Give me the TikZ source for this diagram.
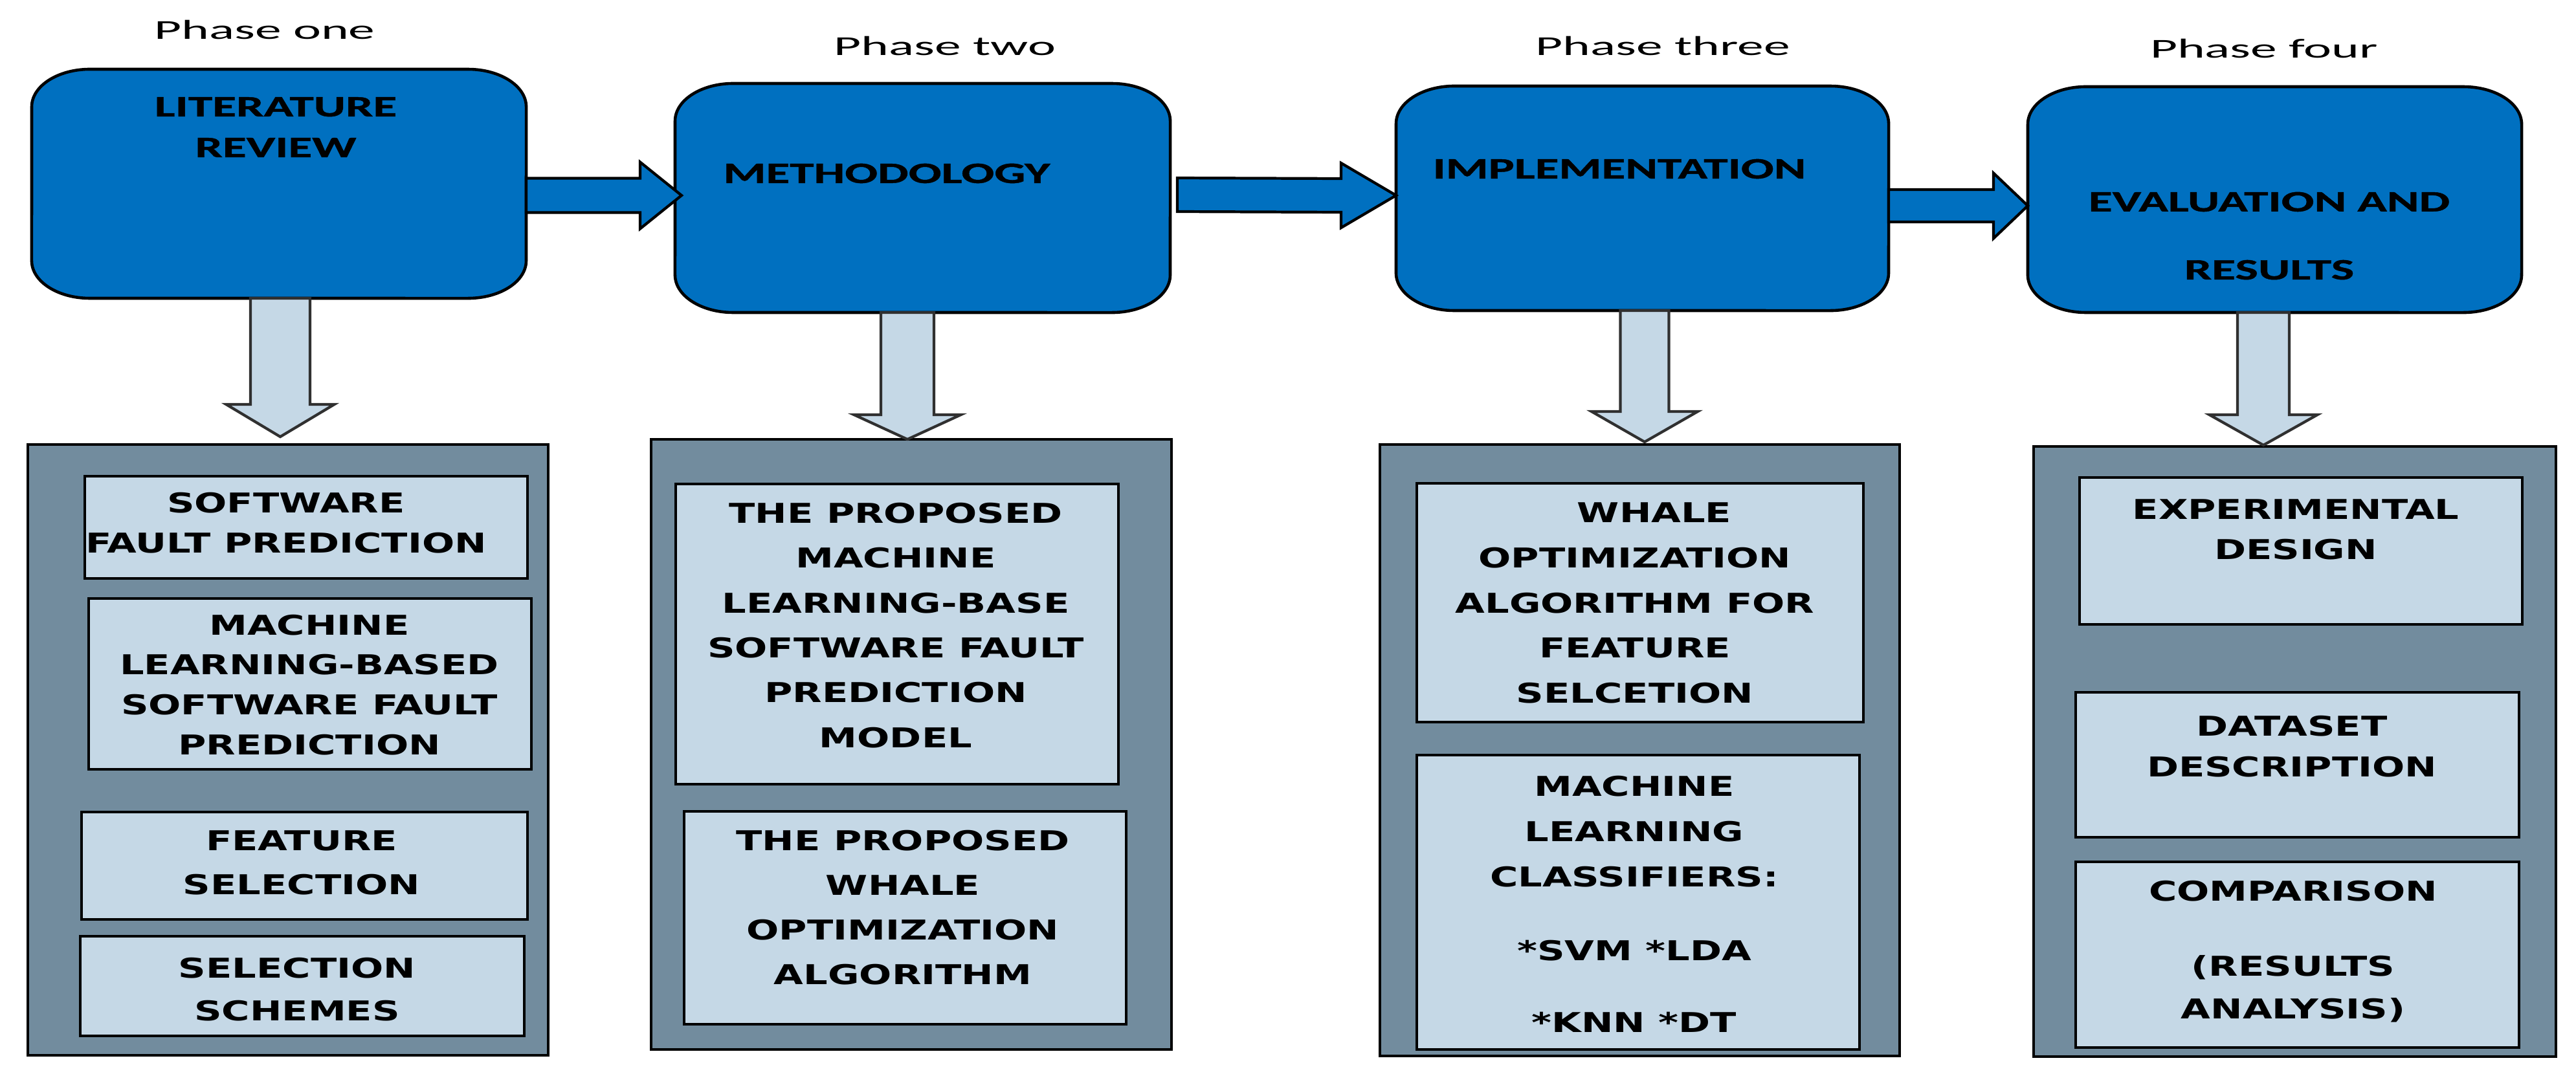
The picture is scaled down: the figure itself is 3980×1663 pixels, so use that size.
\documentclass[tikz,border=0pt]{standalone}
\usepackage{fontspec}
\usetikzlibrary{fit,calc}
\newfontfamily\phasefont[FakeStretch=1.93]{Carlito}
\newfontfamily\topfont[FakeStretch=1.65,FakeBold=1]{Carlito Bold}
\newfontfamily\subfont[FakeStretch=1.4]{DejaVu Sans Bold}
\definecolor{phaseblue}{HTML}{0070C0}
\definecolor{panelgray}{HTML}{728C9E}
\definecolor{lightbox}{HTML}{C5D8E6}
\definecolor{arrowedge}{HTML}{303030}
\tikzset{
  frame/.style={inner sep=0pt, outer sep=0pt},
  topbox/.style={draw=black, line width=1.3pt, fill=phaseblue},
  panel/.style={frame, draw=black, line width=1.4pt, fill=panelgray},
  subbox/.style={frame, draw=black, line width=1.2pt, fill=lightbox},
  phaselabel/.style={anchor=base, inner sep=0pt, font=\phasefont\fontsize{12}{14}\selectfont},
  toptext/.style={align=center, inner sep=0pt, font=\topfont\fontsize{13}{#1}\selectfont},
  subtext/.style={align=center, inner sep=0pt, font=\subfont\fontsize{12}{#1}\selectfont},
  rarrow/.style={draw=black, line width=1.2pt, fill=phaseblue, line join=miter},
  darrow/.style={draw=arrowedge, line width=1.2pt, fill=lightbox, line join=miter},
}
% phase box with elliptical corners, drawn round a named frame node
\newcommand\phasebox[1]{%
  \draw[topbox] ($(#1.north west)+(90,0)$) -- ($(#1.north east)+(-90,0)$)
    arc[start angle=90,end angle=0,x radius=0.9cm,y radius=0.58cm]
    -- ($(#1.south east)+(0,-58)$)
    arc[start angle=0,end angle=-90,x radius=0.9cm,y radius=0.58cm]
    -- ($(#1.south west)+(90,0)$)
    arc[start angle=-90,end angle=-180,x radius=0.9cm,y radius=0.58cm]
    -- ($(#1.north west)+(0,58)$)
    arc[start angle=180,end angle=90,x radius=0.9cm,y radius=0.58cm] -- cycle;}
% block arrow to the right: start, tip, half shaft, half head, head length
\newcommand\rblock[5]{%
  \draw[rarrow] ($(#1)+(0,-#3)$) -- ($(#2)+(-#5,-#3)$) -- ($(#2)+(-#5,-#4)$) -- (#2)
    -- ($(#2)+(-#5,#4)$) -- ($(#2)+(-#5,#3)$) -- ($(#1)+(0,#3)$) -- cycle;}
% block arrow downwards: start, tip, half shaft, half head, head length
\newcommand\dblock[5]{%
  \draw[darrow] ($(#1)+(-#3,0)$) -- ($(#2)+(-#3,-#5)$) -- ($(#2)+(-#4,-#5)$) -- (#2)
    -- ($(#2)+(#4,-#5)$) -- ($(#2)+(#3,-#5)$) -- ($(#1)+(#3,0)$) -- cycle;}
\begin{document}
\begin{tikzpicture}[x=0.01cm,y=-0.01cm]
\path[use as bounding box, fill=white] (0,0) rectangle (3980,1663);

% ---------- lower panels ----------
\node[panel, fit={(43,687) (847,1631)}] (p1) {};
\node[panel, fit={(1006,679) (1810,1622)}] (p2) {};
\node[panel, fit={(2132,687) (2935,1632)}] (p3) {};
\node[panel, fit={(3142,690) (3949,1633)}] (p4) {};

% ---------- sub boxes ----------
\node[subbox, fit={(131,736) (815,894)}] (s11) {};
\node[subbox, fit={(137,925) (821,1189)}] (s12) {};
\node[subbox, fit={(126,1255) (815,1421)}] (s13) {};
\node[subbox, fit={(124,1447) (810,1601)}] (s14) {};
\node[subbox, fit={(1044,748) (1728,1212)}] (s21) {};
\node[subbox, fit={(1057,1254) (1740,1583)}] (s22) {};
\node[subbox, fit={(2189,747) (2879,1116)}] (s31) {};
\node[subbox, fit={(2189,1167) (2873,1622)}] (s32) {};
\node[subbox, fit={(3213,738) (3897,965)}] (s41) {};
\node[subbox, fit={(3207,1070) (3892,1294)}] (s42) {};
\node[subbox, fit={(3207,1332) (3892,1619)}] (s43) {};

% ---------- phase boxes ----------
\node[frame, fit={(49,107) (813,461)}] (b1) {};
\node[frame, fit={(1043,129) (1808,483)}] (b2) {};
\node[frame, fit={(2157,133) (2918,480)}] (b3) {};
\node[frame, fit={(3133,134) (3896,483)}] (b4) {};
\phasebox{b1}
\phasebox{b2}
\phasebox{b3}
\phasebox{b4}

% ---------- arrows ----------
\coordinate (a12s) at (b1.east |- 0,302);
\coordinate (a12t) at (1053,302);
\coordinate (a23s) at (1819,301);
\coordinate (a23t) at (b3.west |- 0,302);
\coordinate (a34s) at (b3.east |- 0,318);
\coordinate (a34t) at (b4.west |- 0,318);
\rblock{a12s}{a12t}{26.5}{51.5}{64}
\rblock{a23s}{a23t}{26}{50}{85}
\rblock{a34s}{a34t}{25}{50.5}{53}

\coordinate (d1s) at (433,0 |- b1.south);
\coordinate (d1t) at (433,675);
\coordinate (d2s) at (1402,0 |- b2.south);
\coordinate (d2t) at (1402,679);
\coordinate (d3s) at (2541,0 |- b3.south);
\coordinate (d3t) at (2541,683);
\coordinate (d4s) at (3497,0 |- b4.south);
\coordinate (d4t) at (3497,688);
\dblock{d1s}{d1t}{46}{83.5}{50}
\dblock{d2s}{d2t}{41}{82.5}{38}
\dblock{d3s}{d3t}{37.5}{82}{47}
\dblock{d4s}{d4t}{40}{83.5}{47}

% ---------- phase labels ----------
\node[phaselabel] (ph1) at (409,60) {Phase one};
\node[phaselabel] (ph2) at (1460,85) {Phase two};
\node[phaselabel] (ph3) at (2569,85) {Phase three};
\node[phaselabel] (ph4) at (3498,89) {Phase four};

% ---------- phase box texts ----------
\node[toptext=17.9pt] (t1) at (426,196.5) {LITERATURE\\REVIEW};
\node[toptext=17.9pt] (t2) at (1370,268) {METHODOLOGY};
\node[toptext=17.9pt] (t3) at (2502,261) {IMPLEMENTATION};
\node[toptext=29.9pt] (t4) at (3506,364.5) {EVALUATION AND\\RESULTS};

% ---------- sub box texts ----------
\node[subtext=17.6pt] (s11t) at (442,808) {SOFTWARE\\FAULT PREDICTION};
\node[subtext=17.6pt] (s12t) at (478,1058.5) {MACHINE\\LEARNING-BASED\\SOFTWARE FAULT\\PREDICTION};
\node[subtext=19.3pt] (s13t) at (466,1333) {FEATURE\\SELECTION};
\node[subtext=18.8pt] (s14t) at (459,1529) {SELECTION\\SCHEMES};
\node[subtext=19.7pt] (s21t) at (1384,966.5) {THE PROPOSED\\MACHINE\\LEARNING-BASE\\SOFTWARE FAULT\\PREDICTION\\MODEL};
\node[subtext=19.6pt] (s22t) at (1395,1402.5) {THE PROPOSED\\WHALE\\OPTIMIZATION\\ALGORITHM};
\node[subtext=19.8pt] (s31t) at (2526,932) {\hspace*{0.6cm}WHALE\\OPTIMIZATION\\ALGORITHM FOR\\FEATURE\\SELCETION};
\node[subtext=19.9pt] (s32t) at (2525,1397.5) {MACHINE\\LEARNING\\CLASSIFIERS:\\[12.5pt]*SVM *LDA\\[11.7pt]*KNN *DT};
\node[subtext=17.4pt] (s41t) at (3547,818.5) {EXPERIMENTAL\\DESIGN};
\node[subtext=17.9pt] (s42t) at (3541,1153.5) {DATASET\\DESCRIPTION};
\node[subtext=18.8pt] (s43t) at (3543,1471) {COMPARISON\\[14.2pt](RESULTS\\ANALYSIS)};
\end{tikzpicture}
\end{document}
